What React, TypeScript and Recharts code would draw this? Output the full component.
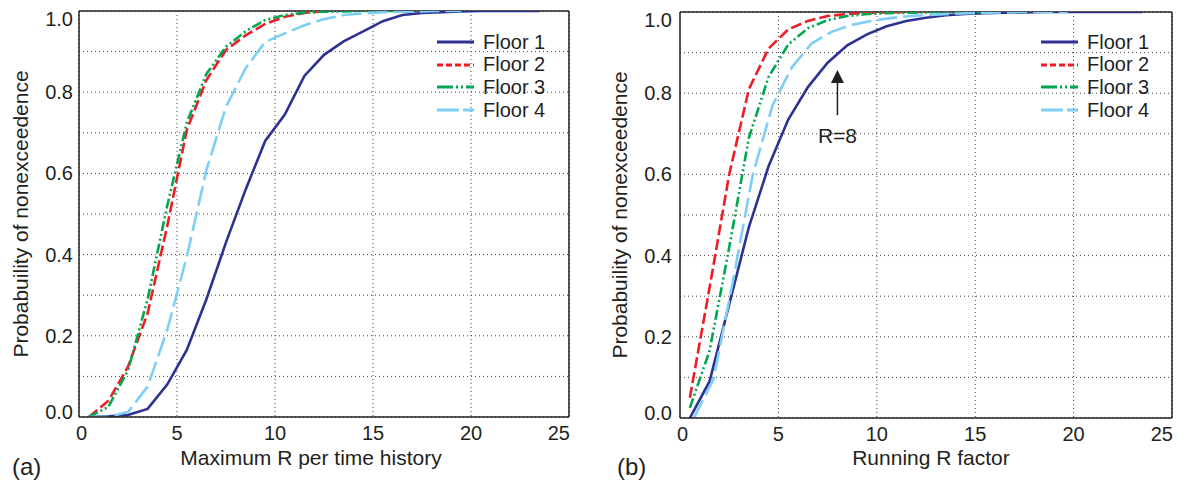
import React from 'react';
import {
  LineChart,
  Line,
  XAxis,
  YAxis,
  CartesianGrid,
  ReferenceLine,
  ReferenceDot,
  Legend,
  Label,
} from 'recharts';

const FONT = '"Liberation Sans", Arial, Helvetica, sans-serif';
const INK = '#231F20';

// ---- categories / labels ----
const seriesNames = ['Floor 1', 'Floor 2', 'Floor 3', 'Floor 4'];
const xTicks = [0, 5, 10, 15, 20, 25];
const yTicks = [0, 0.1, 0.2, 0.3, 0.4, 0.5, 0.6, 0.7, 0.8, 0.9, 1.0];
const yTickLabels = ['0.0', '', '0.2', '', '0.4', '', '0.6', '', '0.8', '', '1.0'];

// ---- panel (a): Maximum R per time history ----
const aX = [0.5, 1.5, 2.5, 3.5, 4.5, 5.5, 6.5, 7.5, 8.5, 9.5, 10.5, 11.5, 12.5, 13.5, 14.5, 15.5, 16.5, 17.5, 18.5, 19.5, 20.5, 21.5, 22.5, 23.5];
const aFloor1 = [0, 0.002, 0.005, 0.02, 0.08, 0.165, 0.29, 0.43, 0.56, 0.68, 0.745, 0.84, 0.892, 0.925, 0.95, 0.975, 0.99, 0.995, 0.997, 0.999, 1, 1, 1, 1];
const aFloor2 = [0, 0.04, 0.124, 0.255, 0.47, 0.707, 0.83, 0.904, 0.94, 0.968, 0.986, 0.995, 1];
const aFloor3 = [0, 0.025, 0.115, 0.29, 0.52, 0.725, 0.845, 0.912, 0.95, 0.978, 0.99, 0.996, 0.998, 0.999, 1, 1, 1];
const aFloor4 = [0, 0.001, 0.012, 0.075, 0.214, 0.395, 0.608, 0.764, 0.859, 0.924, 0.945, 0.965, 0.98, 0.99, 0.994, 0.997, 0.998, 0.999, 1, 1];

// ---- panel (b): Running R factor ----
const bX = [0.5, 1.5, 2.5, 3.5, 4.5, 5.5, 6.5, 7.5, 8.5, 9.5, 10.5, 11.5, 12.5, 13.5, 14.5, 15.5, 16.5, 17.5, 18.5, 19.5, 20.5, 21.5, 22.5, 23.5];
const bX4 = [0.7, 1.7, 2.7, 3.7, 4.7, 5.7, 6.7, 7.7, 8.7, 9.7, 10.7, 11.7, 12.7, 13.7, 14.7, 15.7, 16.7, 17.7, 18.7, 19.7];
const bFloor1 = [0, 0.09, 0.28, 0.47, 0.62, 0.735, 0.815, 0.875, 0.918, 0.945, 0.965, 0.978, 0.986, 0.992, 0.995, 0.997, 0.998, 0.999, 1, 1, 1, 1, 1, 1];
const bFloor2 = [0.05, 0.32, 0.6, 0.81, 0.91, 0.957, 0.978, 0.99, 0.995, 0.998, 0.999, 1, 1];
const bFloor3 = [0.025, 0.165, 0.42, 0.69, 0.84, 0.92, 0.96, 0.98, 0.99, 0.995, 0.997, 0.998, 0.999, 1, 1, 1];
const bFloor4 = [0, 0.095, 0.34, 0.6, 0.77, 0.865, 0.923, 0.951, 0.968, 0.978, 0.985, 0.99, 0.993, 0.995, 0.997, 0.998, 0.999, 1, 1, 1];

// annotation
const arrowX = 8;
const arrowFrom = 0.746;
const arrowHeadBase = 0.828;
const arrowTip = 0.857;
const arrowTextY = 0.697;
const arrowText = 'R=8';

// ---- styles ----
const colors = ['#2E3192', '#EE1C25', '#00A650', '#7DD0F3'];
const dashes = [undefined, '11 4', '10 3 2 3 2 3', '20 6'];
const legendDashes = [undefined, '6 3', '16 3 2 3 2 3', '22 4'];

const toPoints = (xs: number[], ys: number[]) => ys.map((p, i) => ({ x: xs[i], p }));

type PanelProps = {
  left: number;
  width: number;
  yAxisWidth: number;
  top: number;
  right: number;
  xAxisHeight: number;
  yTickGap: number;
  series: { x: number; p: number }[][];
  xLabel: string;
  xLabelX: number;
  yLabelX: number;
  panelLabel: string;
  panelLabelX: number;
  legendLeft: number;
  annotate?: boolean;
};

const makeYTick = () => (props: any) => {
  const { x, y, payload } = props;
  const idx = yTicks.findIndex((t) => Math.abs(t - payload.value) < 1e-6);
  const label = idx >= 0 ? yTickLabels[idx] : '';
  if (!label) return <g />;
  let dy = 7;
  if (idx === 0) dy = 2;
  if (idx === yTicks.length - 1) dy = 15;
  return (
    <text x={x} y={y + dy} textAnchor="end" fontFamily={FONT} fontSize={20} fill={INK}>
      {label}
    </text>
  );
};

const makeXTick = () => (props: any) => {
  const { x, y, payload } = props;
  const v = payload.value;
  let anchor: 'middle' | 'end' = 'middle';
  let dx = 0;
  if (v === xTicks[0]) dx = 2.5;
  if (v === xTicks[xTicks.length - 1]) {
    anchor = 'end';
    dx = 1;
  }
  return (
    <text x={x + dx} y={y + 23} textAnchor={anchor} fontFamily={FONT} fontSize={20} fill={INK}>
      {String(v)}
    </text>
  );
};

const renderLegend = () => (
  <div style={{ fontFamily: FONT, fontSize: 20, color: INK, lineHeight: '22.7px' }}>
    {seriesNames.map((n, i) => (
      <div key={n} style={{ display: 'flex', alignItems: 'center', height: 22.7 }}>
        <svg width={37} height={10} style={{ display: 'block' }}>
          <line x1={0} x2={37} y1={5} y2={5} stroke={colors[i]} strokeWidth={3} strokeDasharray={legendDashes[i]} />
        </svg>
        <span style={{ marginLeft: 9, whiteSpace: 'nowrap' }}>{n}</span>
      </div>
    ))}
  </div>
);

function Panel(p: PanelProps) {
  const height = 489;
  const plotTop = p.top;
  const plotBottom = height - p.xAxisHeight;
  const plotCenterY = (plotTop + plotBottom) / 2;
  return (
    <div style={{ position: 'absolute', left: p.left, top: 0 }}>
      <LineChart
        width={p.width}
        height={height}
        margin={{ top: p.top, right: p.right, bottom: 0, left: 0 }}
      >
        <CartesianGrid stroke="#444" strokeDasharray="1 3" strokeWidth={1} />
        <XAxis
          type="number"
          dataKey="x"
          domain={[0, 25]}
          ticks={xTicks}
          interval={0}
          allowDataOverflow
          height={p.xAxisHeight}
          tickSize={0}
          tickMargin={0}
          tickLine={false}
          axisLine={{ stroke: INK, strokeWidth: 1.5 }}
          tick={makeXTick()}
        >
          <Label
            content={() => (
              <text x={p.xLabelX} y={465} textAnchor="middle" fontFamily={FONT} fontSize={21} fill={INK}>
                {p.xLabel}
              </text>
            )}
          />
          <Label
            content={() => (
              <text x={p.panelLabelX} y={475} textAnchor="start" fontFamily={FONT} fontSize={24} fill={INK}>
                {p.panelLabel}
              </text>
            )}
          />
        </XAxis>
        <YAxis
          type="number"
          dataKey="p"
          domain={[0, 1]}
          ticks={yTicks}
          interval={0}
          allowDataOverflow
          width={p.yAxisWidth}
          tickSize={0}
          tickMargin={p.yTickGap}
          tickLine={false}
          axisLine={{ stroke: INK, strokeWidth: 1.5 }}
          tick={makeYTick()}
        >
          <Label
            content={() => (
              <text
                x={p.yLabelX}
                y={plotCenterY}
                transform={`rotate(-90 ${p.yLabelX} ${plotCenterY})`}
                textAnchor="middle"
                fontFamily={FONT}
                fontSize={21}
                fill={INK}
              >
                Probabuility of nonexceedence
              </text>
            )}
          />
        </YAxis>
        <ReferenceLine y={1} stroke={INK} strokeWidth={1.5} ifOverflow="visible" />
        <ReferenceLine x={25} stroke={INK} strokeWidth={1.5} ifOverflow="visible" />
        {p.series.map((d, i) => (
          <Line
            key={seriesNames[i]}
            name={seriesNames[i]}
            data={d}
            dataKey="p"
            type="linear"
            stroke={colors[i]}
            strokeWidth={2.6}
            strokeDasharray={dashes[i]}
            dot={false}
            activeDot={false}
            isAnimationActive={false}
          />
        ))}
        {p.annotate && (
          <ReferenceLine
            segment={[
              { x: arrowX, y: arrowFrom },
              { x: arrowX, y: arrowHeadBase },
            ]}
            stroke={INK}
            strokeWidth={1.5}
          />
        )}
        {p.annotate && (
          <ReferenceDot
            x={arrowX}
            y={arrowTip}
            shape={(sp: any) => (
              <polygon
                points={`${sp.cx},${sp.cy} ${sp.cx - 6.5},${sp.cy + 13} ${sp.cx + 6.5},${sp.cy + 13}`}
                fill={INK}
              />
            )}
          />
        )}
        {p.annotate && (
          <ReferenceDot
            x={arrowX}
            y={arrowTextY}
            shape={(sp: any) => (
              <text x={sp.cx} y={sp.cy + 7.5} textAnchor="middle" fontFamily={FONT} fontSize={21} fill={INK}>
                {arrowText}
              </text>
            )}
          />
        )}
        <Legend
          layout="vertical"
          align="center"
          verticalAlign="middle"
          content={renderLegend}
          wrapperStyle={{ position: 'absolute', left: p.legendLeft, top: 30.6, width: 130, height: 92 }}
        />
      </LineChart>
    </div>
  );
}

export default function App() {
  const seriesA = [
    toPoints(aX, aFloor1),
    toPoints(aX, aFloor2),
    toPoints(aX, aFloor3),
    toPoints(aX, aFloor4),
  ];
  const seriesB = [
    toPoints(bX, bFloor1),
    toPoints(bX, bFloor2),
    toPoints(bX, bFloor3),
    toPoints(bX4, bFloor4),
  ];
  return (
    <div style={{ position: 'relative', width: 1182, height: 489, background: '#fff', overflow: 'hidden' }}>
      <style>{`body{margin:0;background:#fff;}`}</style>
      <Panel
        left={0}
        width={590}
        yAxisWidth={79}
        top={11}
        right={21}
        xAxisHeight={72}
        yTickGap={6}
        series={seriesA}
        xLabel="Maximum R per time history"
        xLabelX={311}
        yLabelX={28}
        panelLabel="(a)"
        panelLabelX={12}
        legendLeft={437}
      />
      <Panel
        left={590}
        width={592}
        yAxisWidth={90}
        top={12}
        right={10}
        xAxisHeight={71}
        yTickGap={8}
        series={seriesB}
        xLabel="Running R factor"
        xLabelX={341}
        yLabelX={37}
        panelLabel="(b)"
        panelLabelX={27}
        legendLeft={451}
        annotate
      />
    </div>
  );
}
